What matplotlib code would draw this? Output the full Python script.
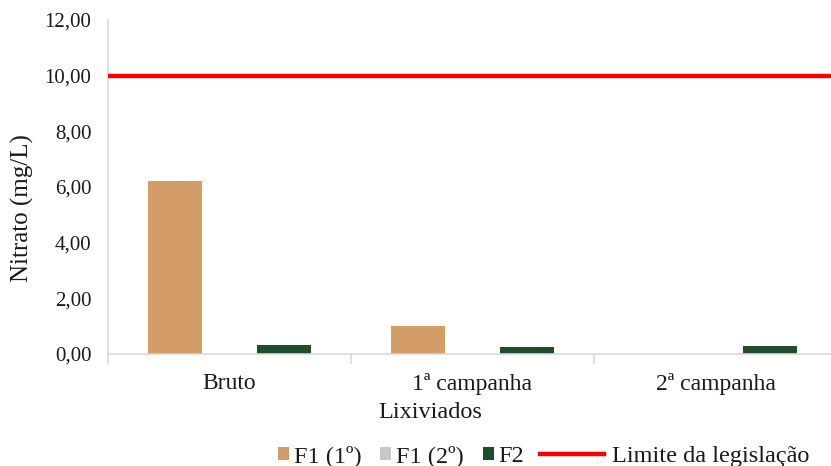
import matplotlib.pyplot as plt
import numpy as np
from matplotlib.patches import Patch
from matplotlib.lines import Line2D

categories = ["Bruto", "1ª campanha", "2ª campanha"]
f1_1 = [6.2, 1.02, 0.0]
f1_2 = [0.0, 0.0, 0.0]
f2 = [0.33, 0.25, 0.29]
limite = 10.0
series_names = ["F1 (1º)", "F1 (2º)", "F2"]
y_ticks = [0, 2, 4, 6, 8, 10, 12]

plt.rcParams['font.family'] = ['Liberation Serif', 'DejaVu Serif']
TXT = '#1a1a1a'

fig = plt.figure(figsize=(8.31, 4.66), dpi=100)
ax = fig.add_axes([108/831, 1-354/466, 729/831, 334/466])

x = np.arange(len(categories))
w = 0.22
cols = ['#D39D68', '#C8C8C8', '#1F4D2C']
ax.bar(x - 0.224, f1_1, w, color=cols[0], zorder=2)
ax.bar(x, f1_2, w, color=cols[1], zorder=2)
ax.bar(x + 0.224, f2, w, color=cols[2], zorder=2)
ax.axhline(limite, color='#FF0000', lw=3.2, zorder=3)

ax.set_xlim(-0.5, 2.5)
ax.set_ylim(0, 12)
ax.set_yticks(y_ticks)
ax.set_yticklabels([f"{v:.2f}".replace('.', ',') for v in y_ticks], fontsize=15, color=TXT)
ax.set_xticks(x)
ax.set_xticklabels(categories, fontsize=17, color=TXT)
ax.set_xticks([-0.5, 0.5, 1.5, 2.5], minor=True)
ax.tick_params(axis='x', which='major', length=0, pad=14)
ax.tick_params(axis='x', which='minor', length=7, color='#D9D9D9', width=1.2)
ax.tick_params(axis='y', length=0, pad=12)
for s in ['top', 'right']:
    ax.spines[s].set_visible(False)
for s in ['left', 'bottom']:
    ax.spines[s].set_color('#D9D9D9')
    ax.spines[s].set_linewidth(1.2)

ax.set_ylabel("Nitrato (mg/L)", fontsize=18, color=TXT)
ax.yaxis.label.set_va('center')
ax.yaxis.set_label_coords((22-108)/729, (354-208)/334)
ax.set_xlabel("Lixiviados", fontsize=17.5, color=TXT)
ax.xaxis.label.set_va('center')
ax.xaxis.set_label_coords((430-108)/729, -(413-354)/334)

handles = [Patch(facecolor=cols[0]), Patch(facecolor=cols[1]), Patch(facecolor=cols[2])]
leg1 = fig.legend(handles, series_names, loc='center left', bbox_to_anchor=(278/831, 1-456/466), ncol=3,
                  frameon=False, fontsize=17.5, handlelength=0.45, handleheight=0.45,
                  handletextpad=0.2, columnspacing=0.78, borderpad=0, borderaxespad=0)
for t in leg1.get_texts():
    t.set_color(TXT)
leg2 = fig.legend([Line2D([0], [0], color='#FF0000', lw=3.2)], ["Limite da legislação"],
                  loc='center left', bbox_to_anchor=(540/831, 1-456/466),
                  frameon=False, fontsize=17.5, handlelength=2.63, handletextpad=0.33,
                  borderpad=0, borderaxespad=0)
for t in leg2.get_texts():
    t.set_color(TXT)

fig.savefig("out.png", dpi=100)
